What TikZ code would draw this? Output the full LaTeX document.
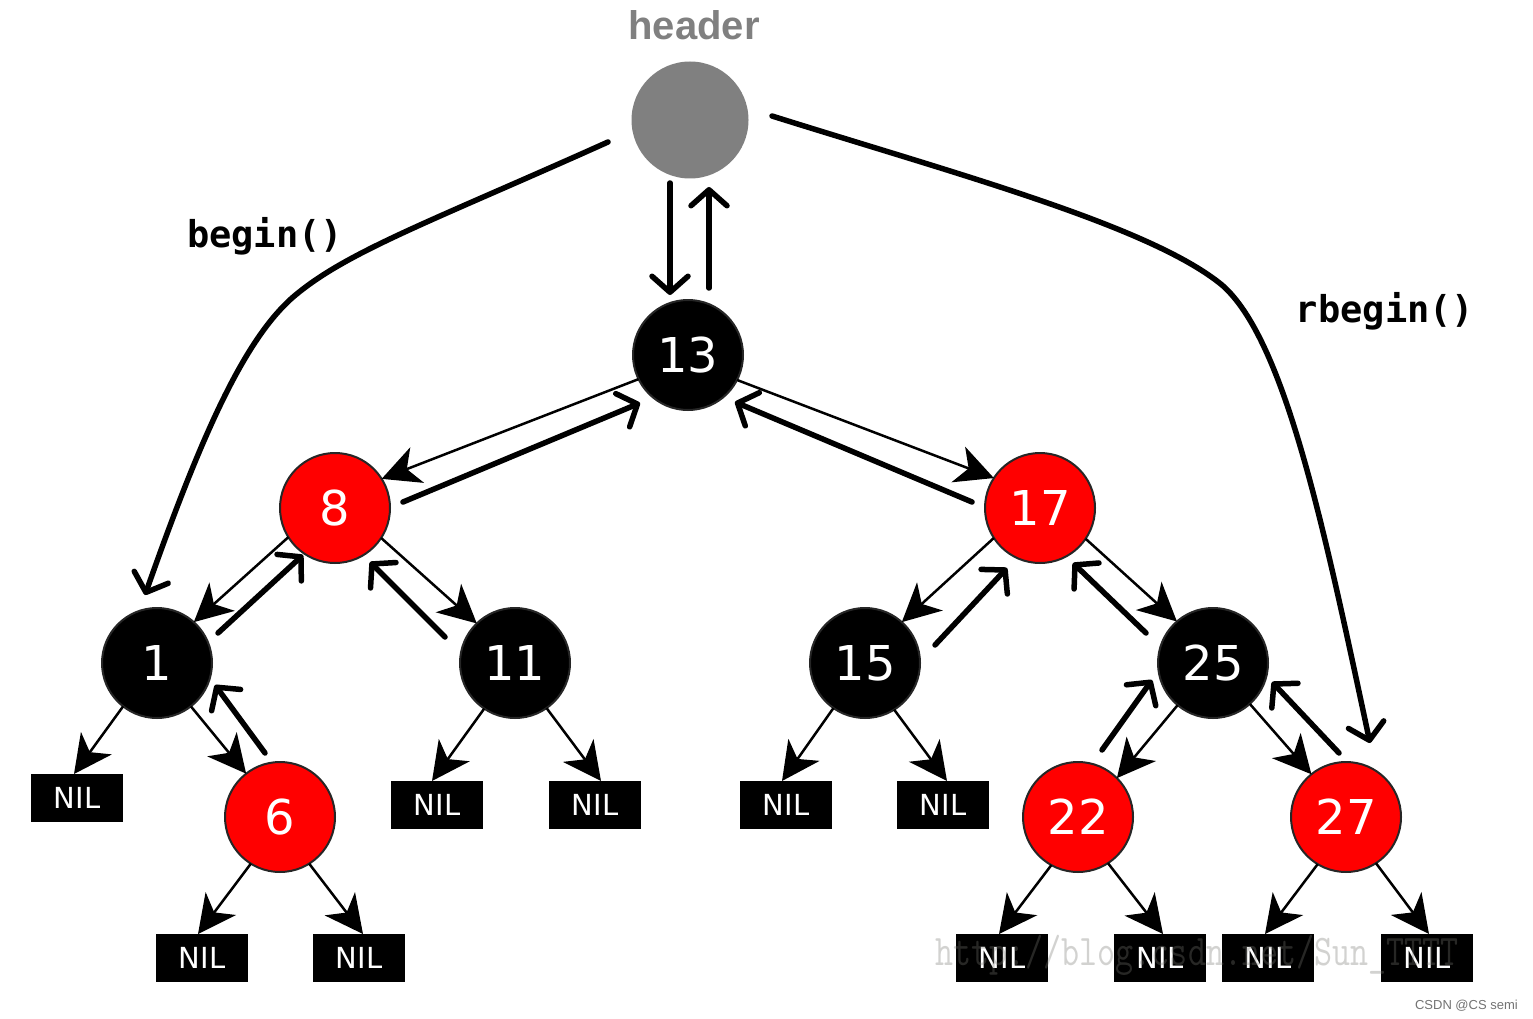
\documentclass[tikz,border=0pt]{standalone}
\usepackage{fontspec}
\usepackage{graphicx}
\usetikzlibrary{arrows.meta}
\newfontfamily\numfont{DejaVu Sans}
\newfontfamily\headfont{Liberation Sans}
\newfontfamily\codefont{DejaVu Sans Mono}
\definecolor{hgray}{RGB}{128,128,128}
\definecolor{nred}{RGB}{255,0,0}
\definecolor{wmgray}{RGB}{120,120,115}
\tikzset{
  rbnode/.style={circle, minimum size=110pt, inner sep=0pt, outer sep=0pt,
    draw=black!85, line width=2pt, text=white,
    font=\numfont\fontsize{48}{48}\selectfont},
  blackn/.style={rbnode, fill=black},
  redn/.style={rbnode, fill=nred},
  headn/.style={circle, minimum size=117pt, inner sep=0pt, outer sep=0pt, fill=hgray},
  nilbox/.style={fill=black, minimum width=92pt, minimum height=48pt, inner sep=0pt,
    outer sep=0pt, text=white, font=\numfont\fontsize{29}{29}\selectfont},
  kid/.style={line width=2.5pt, -{Stealth[length=38pt,width=38pt,inset=11pt]}},
  par/.style={line width=5.5pt, line cap=round, -{Straight Barb[length=16pt,width=36pt,round]}},
  lab/.style={font=\codefont\bfseries\fontsize{37}{37}\selectfont, anchor=base, inner sep=0pt},
}
\begin{document}
\begin{tikzpicture}[x=1pt, y=-1pt]
\useasboundingbox (0,0) rectangle (1533,1019);
\fill[white] (0,0) rectangle (1533,1019);

% header
\node[font=\headfont\bfseries\fontsize{40}{40}\selectfont, text=hgray, anchor=base, inner sep=0pt] (hl) at (694,40) {header};
\node[headn] (H) at (690,120) {};

% tree nodes
\node[blackn] (n13) at (688,355) {13};
\node[redn]   (n8)  at (335,508) {8};
\node[redn]   (n17) at (1040,508) {17};
\node[blackn] (n1)  at (157,663) {1};
\node[blackn] (n11) at (515,663) {11};
\node[blackn] (n15) at (865,663) {15};
\node[blackn] (n25) at (1213,663) {25};
\node[redn]   (n6)  at (280,817) {6};
\node[redn]   (n22) at (1078,817) {22};
\node[redn]   (n27) at (1346,817) {27};

% NIL leaves
\node[nilbox] (a1)   at (77,798)   {NIL};
\node[nilbox] (a6l)  at (202,958)  {NIL};
\node[nilbox] (a6r)  at (359,958)  {NIL};
\node[nilbox] (a11l) at (437,805)  {NIL};
\node[nilbox] (a11r) at (595,805)  {NIL};
\node[nilbox] (a15l) at (786,805)  {NIL};
\node[nilbox] (a15r) at (943,805)  {NIL};
\node[nilbox] (a22l) at (1002,958) {NIL};
\node[nilbox] (a22r) at (1160,958) {NIL};
\node[nilbox] (a27l) at (1268,958) {NIL};
\node[nilbox] (a27r) at (1427,958) {NIL};

% child pointers
\draw[kid] (n13.206) -- (n8.32);
\draw[kid] (n13.-27) -- (n17.147);
\draw[kid] (n8.212) -- (n1.48);
\draw[kid] (n8.-33) -- (n11.134);
\draw[kid] (n17.213) -- (n15.48);
\draw[kid] (n17.-34) -- (n25.131);
\draw[kid] (n1.-128) -- ([xshift=-3pt]a1.north);
\draw[kid] (n1.-52) -- (n6.128);
\draw[kid] (n11.-124) -- ([xshift=-5pt]a11l.north);
\draw[kid] (n11.-55) -- ([xshift=6pt]a11r.north);
\draw[kid] (n6.-122) -- ([xshift=-4pt]a6l.north);
\draw[kid] (n6.-58) -- ([xshift=4pt]a6r.north);
\draw[kid] (n15.-125) -- ([xshift=-4pt]a15l.north);
\draw[kid] (n15.-58) -- ([xshift=4pt]a15r.north);
\draw[kid] (n25.-130) -- (n22.45);
\draw[kid] (n25.-48) -- (n27.129);
\draw[kid] (n22.-119) -- ([xshift=-3pt]a22l.north);
\draw[kid] (n22.-57) -- ([xshift=3pt]a22r.north);
\draw[kid] (n27.-121) -- ([xshift=-3pt]a27l.north);
\draw[kid] (n27.-57) -- ([xshift=2pt]a27r.north);

% parent pointers
\draw[par] ([shift={(-20,63)}]H.center) -- ([shift={(-18,-60)}]n13.center);
\draw[par] ([shift={(21,-67)}]n13.center) -- ([shift={(19,67)}]H.center);
\draw[par] ([shift={(68,-6)}]n8.center) -- ([shift={(-48,48)}]n13.center);
\draw[par] ([shift={(-68,-6)}]n17.center) -- ([shift={(47,47)}]n13.center);
\draw[par] ([shift={(61,-30)}]n1.center) -- ([shift={(-32,47)}]n8.center);
\draw[par] ([shift={(-70,-26)}]n11.center) -- ([shift={(35,54)}]n8.center);
\draw[par] ([shift={(-15,-64)}]n6.center) -- ([shift={(58,22)}]n1.center);
\draw[par] ([shift={(70,-18)}]n15.center) -- ([shift={(-33,60)}]n17.center);
\draw[par] ([shift={(-67,-30)}]n25.center) -- ([shift={(33,55)}]n17.center);
\draw[par] ([shift={(24,-67)}]n22.center) -- ([shift={(-61,17)}]n25.center);
\draw[par] ([shift={(-7,-64)}]n27.center) -- ([shift={(59,19)}]n25.center);

% begin() / rbegin()
\draw[par] ([shift={(-82,22)}]H.center) .. controls (430,222) and (345,252) .. (292,298)
  .. controls (245,340) and (203,430) .. ([shift={(-12,-68)}]n1.center);
\draw[par] ([shift={(82,-4)}]H.center) .. controls (960,175) and (1150,226) .. (1222,285)
  .. controls (1285,340) and (1324,528) .. ([shift={(24,-74)}]n27.center);

\node[lab] (lb) at (265,247) {begin()};
\node[lab] (lrb) at (1385,322) {rbegin()};

% watermark
\node[anchor=base, inner sep=0pt, text=wmgray, text opacity=0.33,
  font=\ttfamily\fontsize{35}{35}\selectfont] (wm) at (1197,965)
  {\scalebox{1}[1.25]{http://blog.csdn.net/Sun\_TTTT}};
\node[anchor=base east, inner sep=0pt, text=black!55,
  font=\headfont\fontsize{13}{13}\selectfont] (csdn) at (1518,1009) {CSDN @CS semi};
\end{tikzpicture}
\end{document}
